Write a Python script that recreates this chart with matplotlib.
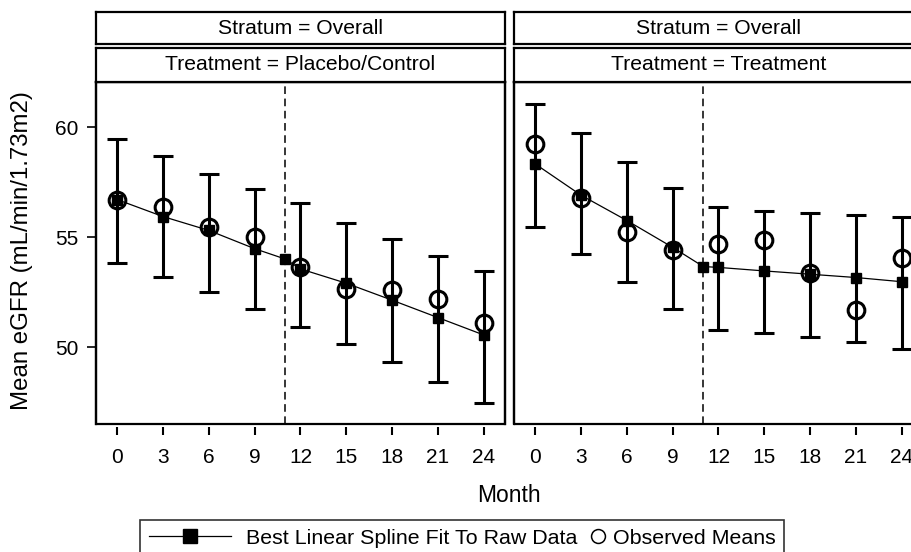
import matplotlib
matplotlib.use('Agg')
import matplotlib.pyplot as plt
from matplotlib.lines import Line2D
from matplotlib.patches import Rectangle
from matplotlib.legend_handler import HandlerLine2D

plt.rcParams['font.family'] = ['Liberation Sans', 'DejaVu Sans']

# Months of observation and of the fitted spline (knot at month 11)
months = [0, 3, 6, 9, 12, 15, 18, 21, 24]
fit_months = [0, 3, 6, 9, 11, 12, 15, 18, 21, 24]
knot = 11

# Placebo/Control
obs_placebo = [56.68, 56.36, 55.44, 55.0, 53.62, 52.66, 52.57, 52.2, 51.1]
lo_placebo = [53.84, 53.2, 52.5, 51.72, 50.89, 50.12, 49.3, 48.43, 47.47]
hi_placebo = [59.44, 58.69, 57.88, 57.17, 56.53, 55.65, 54.92, 54.13, 53.45]
fit_placebo = [56.7, 55.93, 55.3, 54.47, 54.0, 53.55, 52.9, 52.13, 51.34, 50.55]

# Treatment
obs_treat = [59.25, 56.78, 55.22, 54.41, 54.68, 54.86, 53.38, 51.7, 54.06]
lo_treat = [55.44, 54.25, 52.96, 51.72, 50.76, 50.66, 50.47, 50.23, 49.93]
hi_treat = [61.04, 59.71, 58.42, 57.23, 56.36, 56.17, 56.08, 56.0, 55.93]
fit_treat = [58.32, 56.9, 55.75, 54.53, 53.66, 53.62, 53.46, 53.31, 53.16, 52.97]

panels = [
    ('Treatment = Placebo/Control', obs_placebo, lo_placebo, hi_placebo, fit_placebo),
    ('Treatment = Treatment', obs_treat, lo_treat, hi_treat, fit_treat),
]

W, H = 912, 552
fig = plt.figure(figsize=(W / 100, H / 100), dpi=100)


def px(x0, y0, x1, y1):
    # pixel box (top-left origin) -> figure fraction rect
    return [x0 / W, 1 - y1 / H, (x1 - x0) / W, (y1 - y0) / H]


# legend handler that puts the marker at the right end of the handle box
class RightMarker(HandlerLine2D):
    def create_artists(self, legend, orig_handle, xdescent, ydescent,
                       width, height, fontsize, trans):
        arts = super().create_artists(legend, orig_handle, xdescent, ydescent,
                                      width, height, fontsize, trans)
        for a in arts:
            a.set_xdata([width - xdescent] * len(a.get_xdata()))
        return arts


lefts = [96, 514]
pw = 409
for i, (title, obs, lo, hi, fit) in enumerate(panels):
    x0 = lefts[i]
    ax = fig.add_axes(px(x0, 82, x0 + pw, 424))

    # strips
    for (y0, y1, txt) in [(11.7, 44.3, 'Stratum = Overall'), (47.7, 81.5, title)]:
        sax = fig.add_axes(px(x0, y0, x0 + pw, y1))
        sax.set_xticks([])
        sax.set_yticks([])
        for s in sax.spines.values():
            s.set_linewidth(1.6)
        sax.text(0.5, 0.5, txt, ha='center', va='center', fontsize=15.2,
                 transform=sax.transAxes)

    yerr = [[o - l for o, l in zip(obs, lo)], [h - o for o, h in zip(obs, hi)]]
    ax.errorbar(months, obs, yerr=yerr, fmt='none', ecolor='black',
                elinewidth=2.2, capsize=7.5, capthick=2.2, zorder=2)
    ax.plot(fit_months, fit, color='black', lw=0.9, marker='s', ms=6.5, zorder=3)
    ax.plot(months, obs, ls='none', marker='o', ms=12, mfc='none', mec='black',
            mew=2.2, zorder=4)
    ax.axvline(knot, color='black', lw=1.1, ls=(0, (5, 3)), zorder=1)

    ax.set_xlim(-1.4, 25.4)
    ax.set_ylim(46.5, 62.05)
    ax.set_xticks(months)
    ax.set_yticks([50, 55, 60])

    for s in ax.spines.values():
        s.set_linewidth(1.6)
    ax.spines['bottom'].set_position(('outward', 2.5))
    ax.spines['bottom'].set_visible(False)
    ax.add_patch(Rectangle((0, 0), 1, 1, transform=ax.transAxes, fill=False,
                           lw=1.6, clip_on=False, zorder=5))
    ax.tick_params(axis='x', length=6, width=1.5, pad=9, labelsize=15)
    ax.tick_params(axis='y', length=6.5, width=1.2, pad=6, labelsize=15)
    if i == 1:
        ax.tick_params(axis='y', left=False, labelleft=False)

fig.text(22 / W, 1 - 251 / H, 'Mean eGFR (mL/min/1.73m2)', rotation=90,
         ha='center', va='center', fontsize=17.3)
fig.text(509 / W, 1 - 496 / H, 'Month', ha='center', va='center', fontsize=16.5)

fit_handle = Line2D([], [], color='black', lw=0.9, marker='s', ms=9.4)
obs_handle = Line2D([], [], ls='none', marker='o', ms=10, mfc='none',
                    mec='black', mew=1.1)
leg = fig.legend([fit_handle, obs_handle],
                 ['Best Linear Spline Fit To Raw Data', 'Observed Means'],
                 handler_map={obs_handle: RightMarker()},
                 loc='upper left', bbox_to_anchor=(140 / W, 1 - 520 / H),
                 ncol=2, frameon=True, fancybox=False, fontsize=15.4,
                 handlelength=3.85, handletextpad=0.7, columnspacing=-2.9,
                 borderpad=0.4, borderaxespad=0)
leg.get_frame().set_edgecolor('black')
leg.get_frame().set_linewidth(1.2)

fig.savefig('out.png', dpi=100)
